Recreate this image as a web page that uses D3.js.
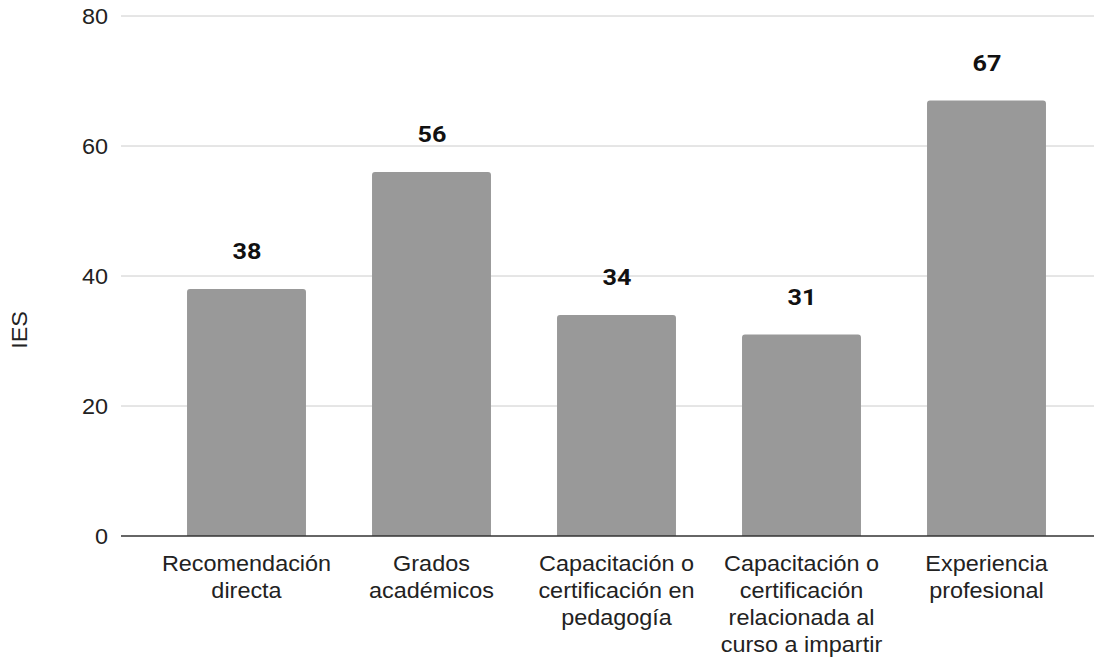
<!DOCTYPE html>
<html>
<head>
<meta charset="utf-8">
<script src="https://cdn.jsdelivr.net/npm/d3@7"></script>
<style>
  body { margin: 0; background: #fff; }
  svg { display: block; }
</style>
</head>
<body>
<script>
// chart data
const categories = [
  "Recomendación directa",
  "Grados académicos",
  "Capacitación o certificación en pedagogía",
  "Capacitación o certificación relacionada al curso a impartir",
  "Experiencia profesional"
];
// how each category label is broken into lines
const categoryLines = [
  ["Recomendación", "directa"],
  ["Grados", "académicos"],
  ["Capacitación o", "certificación en", "pedagogía"],
  ["Capacitación o", "certificación", "relacionada al", "curso a impartir"],
  ["Experiencia", "profesional"]
];
const values = [38, 56, 34, 31, 67];
const yTicks = [0, 20, 40, 60, 80];
const yTitle = "IES";

const width = 1104, height = 660;
const plotLeft = 121, plotRight = 1094;
const plotTop = 16, plotBottom = 536;
const labelFont = "Liberation Sans, Arial, sans-serif";
const sx = 1.09; // text in the picture is a bit wider than the font

const svg = d3.select("body")
    .append("svg")
    .attr("width", width)
    .attr("height", height);

const x = d3.scaleBand()
    .domain(categories)
    .range([154, 1079])
    .paddingInner(0.357)
    .paddingOuter(0.1785);

const y = d3.scaleLinear()
    .domain([0, 80])
    .range([plotBottom, plotTop]);

// gridlines
svg.append("g")
    .selectAll("line")
    .data(yTicks.filter(d => d > 0))
    .enter()
    .append("line")
    .attr("x1", plotLeft)
    .attr("x2", plotRight)
    .attr("y1", d => y(d))
    .attr("y2", d => y(d))
    .attr("stroke", "#cccccc")
    .attr("stroke-width", 1);

// y tick labels
svg.append("g")
    .selectAll("text")
    .data(yTicks)
    .enter()
    .append("text")
    .attr("transform", d => `translate(108,${y(d)}) scale(${sx},1)`)
    .attr("dy", "0.36em")
    .attr("text-anchor", "end")
    .attr("font-family", labelFont)
    .attr("font-size", 21.5)
    .attr("fill", "#222")
    .text(d => d);

// bars with rounded tops
const r = 3;
svg.append("g")
    .selectAll("path")
    .data(values)
    .enter()
    .append("path")
    .attr("fill", "#999999")
    .attr("d", (d, i) => {
        const x0 = x(categories[i]), x1 = x0 + x.bandwidth();
        const yt = y(d), yb = y(0);
        return `M${x0},${yb} V${yt + r} Q${x0},${yt} ${x0 + r},${yt} H${x1 - r} Q${x1},${yt} ${x1},${yt + r} V${yb} Z`;
    });

// baseline
svg.append("line")
    .attr("x1", plotLeft)
    .attr("x2", plotRight)
    .attr("y1", y(0))
    .attr("y2", y(0))
    .attr("stroke", "#333333")
    .attr("stroke-width", 1.5);

// value labels
svg.append("g")
    .selectAll("text")
    .data(values)
    .enter()
    .append("text")
    .attr("transform", (d, i) => `translate(${x(categories[i]) + x.bandwidth() / 2 + 0.5},${y(d) - 30}) scale(1.12,1)`)
    .attr("text-anchor", "middle")
    .attr("font-family", "Roboto, sans-serif")
    .attr("font-weight", "bold")
    .attr("font-size", 22.5)
    .attr("fill", "#111")
    .text(d => d);

// category labels
const catG = svg.append("g")
    .selectAll("text")
    .data(categories)
    .enter()
    .append("text")
    .attr("transform", d => `translate(${x(d) + x.bandwidth() / 2},571) scale(${sx},1)`)
    .attr("text-anchor", "middle")
    .attr("font-family", labelFont)
    .attr("font-size", 21.5)
    .attr("fill", "#222");

catG.selectAll("tspan")
    .data((d, i) => categoryLines[i])
    .enter()
    .append("tspan")
    .attr("x", 0)
    .attr("dy", (d, i) => i === 0 ? 0 : 27)
    .text(d => d);

// y axis title
svg.append("text")
    .attr("transform", `translate(27,330) rotate(-90) scale(${sx},1)`)
    .attr("text-anchor", "middle")
    .attr("font-family", labelFont)
    .attr("font-size", 21.5)
    .attr("fill", "#222")
    .text(yTitle);
</script>
</body>
</html>
